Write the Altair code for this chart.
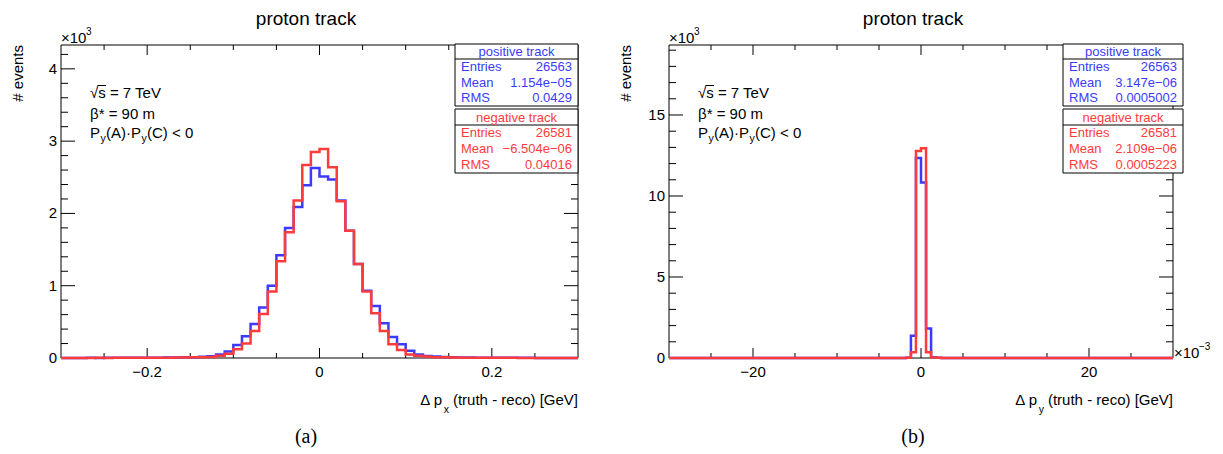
import altair as alt
import numpy as np
import pandas as pd

SANS = "Liberation Sans"
SERIF = "Liberation Serif"
BLUE = "#3b3bff"
RED = "#ff3b3b"

# ---------------- Δp_x : 60 bins over [-0.3, 0.3] GeV ----------------
px_lo, px_hi = -0.3, 0.3
px_positive = [
    0, 1, 1, 2, 1, 2, 3, 2, 3, 4,
    4, 5, 6, 8, 10, 12, 18, 25, 50, 90,
    180, 300, 470, 700, 1000, 1420, 1800, 2090, 2390, 2630,
    2510, 2470, 2180, 1760, 1300, 930, 720, 480, 290, 190,
    100, 50, 28, 20, 14, 10, 8, 6, 5, 4,
    3, 3, 2, 2, 2, 1, 1, 1, 0, 1,
]
px_negative = [
    1, 0, 1, 1, 2, 1, 2, 3, 2, 3,
    3, 4, 4, 6, 7, 9, 11, 15, 30, 60,
    120, 200, 375, 610, 920, 1340, 1740, 2180, 2670, 2850,
    2890, 2640, 2170, 1760, 1300, 920, 620, 375, 190, 110,
    50, 30, 20, 12, 9, 7, 5, 4, 4, 3,
    2, 2, 2, 1, 1, 1, 0, 1, 0, 0,
]

# ---------------- Δp_y : 100 bins over [-0.03, 0.03] GeV ----------------
py_lo, py_hi = -0.03, 0.03
py_positive = [
    0, 0, 0, 0, 0, 0, 0, 0, 0, 0,
    0, 0, 0, 0, 0, 0, 0, 0, 0, 0,
    0, 0, 0, 0, 1, 0, 0, 0, 0, 0,
    0, 0, 1, 0, 0, 1, 0, 0, 1, 0,
    1, 0, 1, 1, 2, 3, 5, 12, 1370, 12340,
    10840, 1820, 50, 10, 5, 3, 2, 1, 1, 0,
    1, 0, 1, 0, 0, 0, 0, 0, 0, 0,
    0, 0, 0, 0, 0, 0, 0, 0, 0, 0,
    0, 0, 0, 0, 0, 0, 0, 0, 0, 0,
    0, 0, 0, 0, 0, 0, 0, 0, 0, 0,
]
py_negative = [
    0, 0, 0, 0, 0, 0, 0, 0, 0, 0,
    0, 0, 0, 0, 0, 0, 0, 0, 0, 0,
    0, 0, 0, 0, 0, 0, 1, 0, 0, 0,
    0, 0, 0, 1, 0, 0, 1, 0, 0, 1,
    0, 1, 1, 2, 2, 3, 4, 15, 350, 12780,
    12950, 350, 25, 8, 4, 2, 1, 1, 0, 1,
    0, 0, 1, 0, 0, 0, 0, 0, 0, 0,
    0, 0, 0, 0, 0, 0, 0, 0, 0, 0,
    0, 0, 0, 0, 0, 0, 0, 0, 0, 0,
    0, 0, 0, 0, 0, 0, 0, 0, 0, 0,
]

# ---------------- axis ticks ----------------
px_major = [-0.2, 0.0, 0.2]
px_major_labels = ["\u22120.2", "0", "0.2"]
px_minor = [-0.25, -0.15, -0.1, -0.05, 0.05, 0.1, 0.15, 0.25]
cnt_a_major = [0, 1000, 2000, 3000, 4000]
cnt_a_labels = ["0", "1", "2", "3", "4"]
cnt_a_minor = [200, 400, 600, 800, 1200, 1400, 1600, 1800, 2200, 2400, 2600,
               2800, 3200, 3400, 3600, 3800, 4200]

py_major = [-0.02, 0.0, 0.02]
py_major_labels = ["\u221220", "0", "20"]
py_minor = [-0.025, -0.015, -0.01, -0.005, 0.005, 0.01, 0.015, 0.025]
cnt_b_major = [0, 5000, 10000, 15000]
cnt_b_labels = ["0", "5", "10", "15"]
cnt_b_minor = [1000, 2000, 3000, 4000, 6000, 7000, 8000, 9000, 11000, 12000,
               13000, 14000, 16000, 17000, 18000, 19000]

# ---------------- statistics boxes ----------------
stat_names = ["Entries", "Mean", "RMS"]
stats_a = {
    "positive track": ["26563", "1.154e\u221205", "0.0429"],
    "negative track": ["26581", "\u22126.504e\u221206", "0.04016"],
}
stats_b = {
    "positive track": ["26563", "3.147e\u221206", "0.0005002"],
    "negative track": ["26581", "2.109e\u221206", "0.0005223"],
}

ONE = pd.DataFrame({"k": [0]})


def txt(s, x, y, size=14, color="black", align="left", baseline="middle",
        font=SANS, angle=0):
    return alt.Chart(ONE).mark_text(
        text=s, fontSize=size, color=color, align=align, baseline=baseline,
        font=font, angle=angle,
    ).encode(x=alt.value(x), y=alt.value(y))


def box(x0, x1, y0, y1):
    return alt.Chart(ONE).mark_rect(
        fill="white", stroke="black", strokeWidth=1
    ).encode(x=alt.value(x0), x2=alt.value(x1), y=alt.value(y0), y2=alt.value(y1))


def hline(x0, x1, y):
    return alt.Chart(ONE).mark_rule(color="black", strokeWidth=1).encode(
        x=alt.value(x0), x2=alt.value(x1), y=alt.value(y))


def panel(lo, hi, ymax, pos, neg, xmaj, xlab, xmin, ymaj, ylab, ymin, frame):
    left, right, top, bottom = frame
    xs = alt.Scale(domain=[lo, hi], range=[left, right], nice=False, zero=False)
    ys = alt.Scale(domain=[0, ymax], range=[bottom, top], nice=False, zero=False)

    def X(f):
        return alt.X(f, type="quantitative", scale=xs, axis=None)

    def Y(f):
        return alt.Y(f, type="quantitative", scale=ys, axis=None)

    layers = []
    fr = pd.DataFrame({"x0": [lo], "x1": [hi], "y0": [0], "y1": [ymax]})
    layers.append(
        alt.Chart(fr).mark_rect(fill="white", stroke="black", strokeWidth=1)
        .encode(x=X("x0"), x2="x1", y=Y("y0"), y2="y1")
    )

    # tick marks on all four sides, pointing inward
    for vals, ln in ((xmaj, 10), (xmin, 5)):
        b = alt.Chart(pd.DataFrame({"v": vals})).mark_rule(color="black", strokeWidth=1)
        layers.append(b.encode(x=X("v"), y=alt.value(bottom), y2=alt.value(bottom - ln)))
        layers.append(b.encode(x=X("v"), y=alt.value(top), y2=alt.value(top + ln)))
    for vals, ln in ((ymaj, 14), (ymin, 7)):
        b = alt.Chart(pd.DataFrame({"v": vals})).mark_rule(color="black", strokeWidth=1)
        layers.append(b.encode(y=Y("v"), x=alt.value(left), x2=alt.value(left + ln)))
        layers.append(b.encode(y=Y("v"), x=alt.value(right), x2=alt.value(right - ln)))

    # step outlines of the two histograms
    for counts, color in ((pos, BLUE), (neg, RED)):
        edges = np.linspace(lo, hi, len(counts) + 1)
        df = pd.DataFrame({"edge": edges, "count": list(counts) + [counts[-1]]})
        layers.append(
            alt.Chart(df).mark_line(interpolate="step-after", color=color,
                                    strokeWidth=2.5, strokeJoin="miter")
            .encode(x=X("edge"), y=Y("count"))
        )

    # tick labels
    layers.append(
        alt.Chart(pd.DataFrame({"v": xmaj, "t": xlab})).mark_text(
            font=SANS, fontSize=15, align="center", baseline="middle")
        .encode(x=X("v"), y=alt.value(bottom + 14), text="t:N")
    )
    layers.append(
        alt.Chart(pd.DataFrame({"v": ymaj, "t": ylab})).mark_text(
            font=SANS, fontSize=15, align="right", baseline="middle")
        .encode(y=Y("v"), x=alt.value(left - 4), text="t:N")
    )
    return alt.layer(*layers)


FA = (61, 578, 45, 358)
FB = (669, 1173, 45, 358)

panel_a = panel(px_lo, px_hi, 4330, px_positive, px_negative,
                px_major, px_major_labels, px_minor,
                cnt_a_major, cnt_a_labels, cnt_a_minor, FA)
panel_b = panel(py_lo, py_hi, 19320, py_positive, py_negative,
                py_major, py_major_labels, py_minor,
                cnt_b_major, cnt_b_labels, cnt_b_minor, FB)


def decorations(frame, title_x, caption, boxx, stats, sub, exp_right):
    left, right, top, bottom = frame
    out = []
    out.append(txt("proton track", title_x, 19, size=19, align="center"))
    out.append(txt("# events", left - 43, top, size=15, align="right", angle=270))
    out.append(txt("\u00d710", left, top - 2, size=15, baseline="alphabetic"))
    out.append(txt("3", left + 25, top - 10, size=10, baseline="alphabetic"))
    # beam conditions
    ax = left + 29
    out.append(txt("\u221as = 7 TeV", ax, 93, size=15))
    out.append(hline(ax + 7.5, ax + 16, 85.5))
    out.append(txt("\u03b2* = 90 m", ax, 114, size=15))
    out.append(txt("P", ax, 133, size=15))
    out.append(txt("y", ax + 10.5, 138.5, size=10.5))
    out.append(txt("(A)\u00b7P", ax + 16, 133, size=15))
    out.append(txt("y", ax + 51.5, 138.5, size=10.5))
    out.append(txt("(C) < 0", ax + 57, 133, size=15))
    # x axis title, right-aligned at the frame edge
    out.append(txt("(truth - reco) [GeV]", right, 400, size=15, align="right"))
    out.append(txt(sub, right - 129, 410, size=10.5, align="right"))
    out.append(txt("\u0394 p", right - 136, 400, size=15, align="right"))
    if exp_right:
        out.append(txt("\u00d710", right + 1, bottom, size=15, baseline="alphabetic"))
        out.append(txt("\u22123", right + 26, bottom - 8, size=10, baseline="alphabetic"))
    # caption
    out.append(txt(caption, title_x, 437, size=20, align="center", font=SERIF))
    # statistics boxes
    bx0, bx1 = boxx
    for (name, vals), color, (y0, ysep, y1) in zip(
        stats.items(), (BLUE, RED), ((44, 59, 106), (109, 125, 173))
    ):
        out.append(box(bx0, bx1, y0, y1))
        out.append(hline(bx0, bx1, ysep))
        out.append(txt(name, (bx0 + bx1) / 2, (y0 + ysep) / 2 + 0.5, size=13,
                       color=color, align="center"))
        rh = (y1 - ysep) / 3
        for k, (lab, v) in enumerate(zip(stat_names, vals)):
            yy = ysep + rh * (k + 0.5)
            out.append(txt(lab, bx0 + 6, yy, size=13, color=color))
            out.append(txt(v, bx1 - 6, yy, size=13, color=color, align="right"))
    return out


deco = (decorations(FA, 306, "(a)", (455, 578), stats_a, "x", False)
        + decorations(FB, 913, "(b)", (1063, 1183), stats_b, "y", True))

chart = (
    alt.layer(panel_a, panel_b, *deco)
    .resolve_scale(x="independent", y="independent")
    .properties(width=1223, height=454, padding=0,
                autosize=alt.AutoSizeParams(type="none"), background="white")
    .configure_view(stroke=None)
)

chart.save("out.html", embed_options={"renderer": "svg", "actions": False})
